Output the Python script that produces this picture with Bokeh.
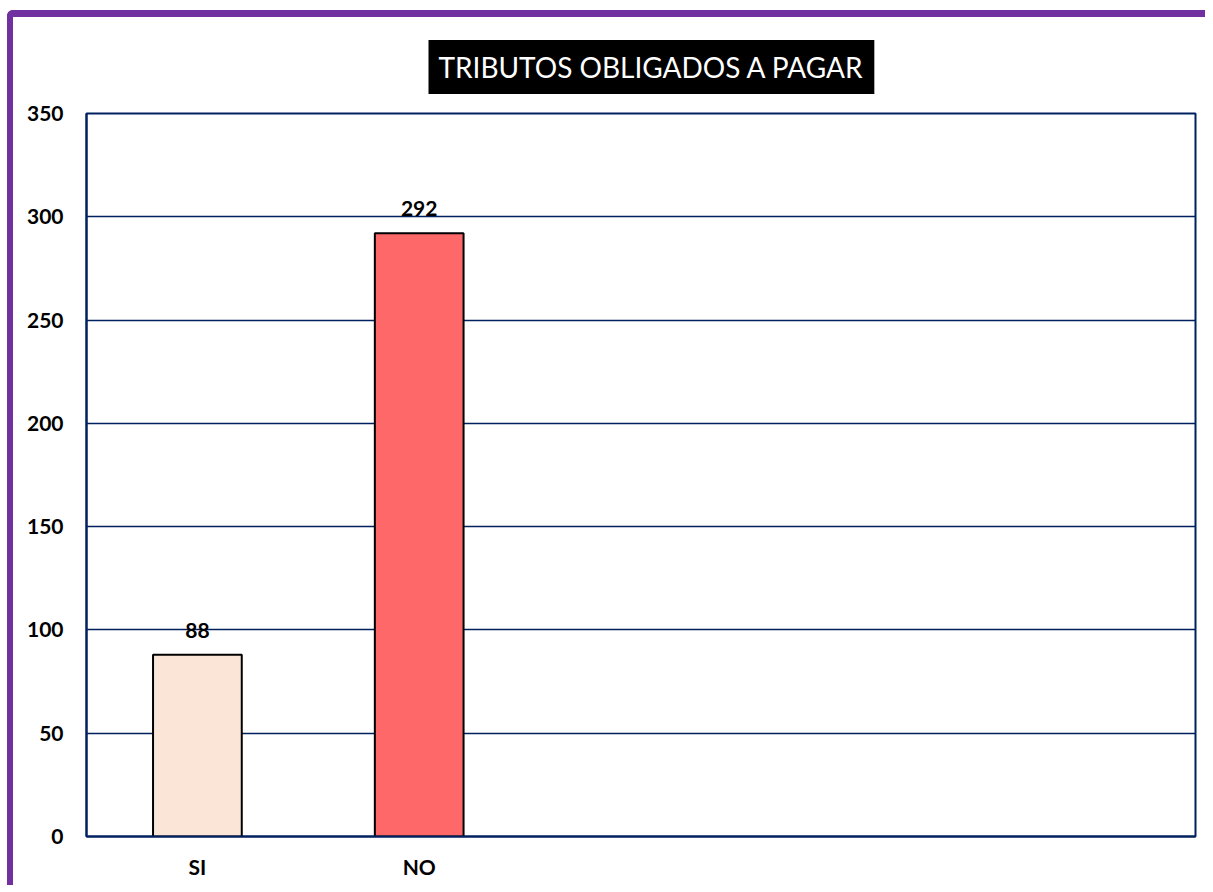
from bokeh.plotting import figure
from bokeh.models import ColumnDataSource, Range1d, FactorRange, LabelSet, SingleIntervalTicker
from bokeh.core.properties import value
from bokeh.embed import file_html
from bokeh.resources import INLINE

categories = ["SI", "NO"]
values = [88, 292]
colors = ["#FBE5D6", "#FF6868"]
blank_slots = [" ", "  ", "   "]
title_text = "TRIBUTOS OBLIGADOS A PAGAR"

NAVY = "#002060"
PURPLE = "#7030A0"
FONT = "Lato"

source = ColumnDataSource(dict(cat=categories, val=values, color=colors,
                               lbl=[str(v) for v in values]))

p = figure(width=1198, height=875, output_backend="svg", toolbar_location=None,
           x_range=FactorRange(*(categories + blank_slots), range_padding=0),
           y_range=Range1d(0, 350),
           min_border_left=73, min_border_right=16, min_border_top=96, min_border_bottom=56)

p.styles = {"border-left": f"6px solid {PURPLE}", "border-top": f"7px solid {PURPLE}",
            "border-top-left-radius": "6px", "margin-left": "7px", "margin-top": "10px"}

p.vbar(x="cat", top="val", width=0.4, source=source, fill_color="color",
       line_color="black", line_width=2)

labels = LabelSet(x="cat", y="val", text="lbl", source=source, y_offset=17,
                  text_align="center", text_baseline="alphabetic",
                  text_font=value(FONT), text_font_style="bold", text_font_size="21px",
                  text_color="black")
p.add_layout(labels)

p.title.text = title_text
p.title.align = "left"
p.title.offset = 342
p.title.standoff = 39
p.title.text_font = FONT
p.title.text_font_style = "normal"
p.title.text_font_size = "28px"
p.title.text_color = "white"
p.title.background_fill_color = "black"
p.title.padding = 10

p.outline_line_color = NAVY
p.outline_line_width = 2

p.xgrid.grid_line_color = None
p.ygrid.grid_line_color = NAVY
p.ygrid.grid_line_width = 1.7
p.yaxis.ticker = SingleIntervalTicker(interval=50)

for ax in (p.xaxis, p.yaxis):
    ax.axis_line_color = NAVY
    ax.axis_line_width = 2
    ax.major_tick_line_color = None
    ax.minor_tick_line_color = None
    ax.major_label_text_font = FONT
    ax.major_label_text_font_style = "bold"
    ax.major_label_text_font_size = "21px"
    ax.major_label_text_color = "black"

p.yaxis.major_label_standoff = 17
p.xaxis.major_label_standoff = 11

open("out.html", "w").write(file_html(p, INLINE))
